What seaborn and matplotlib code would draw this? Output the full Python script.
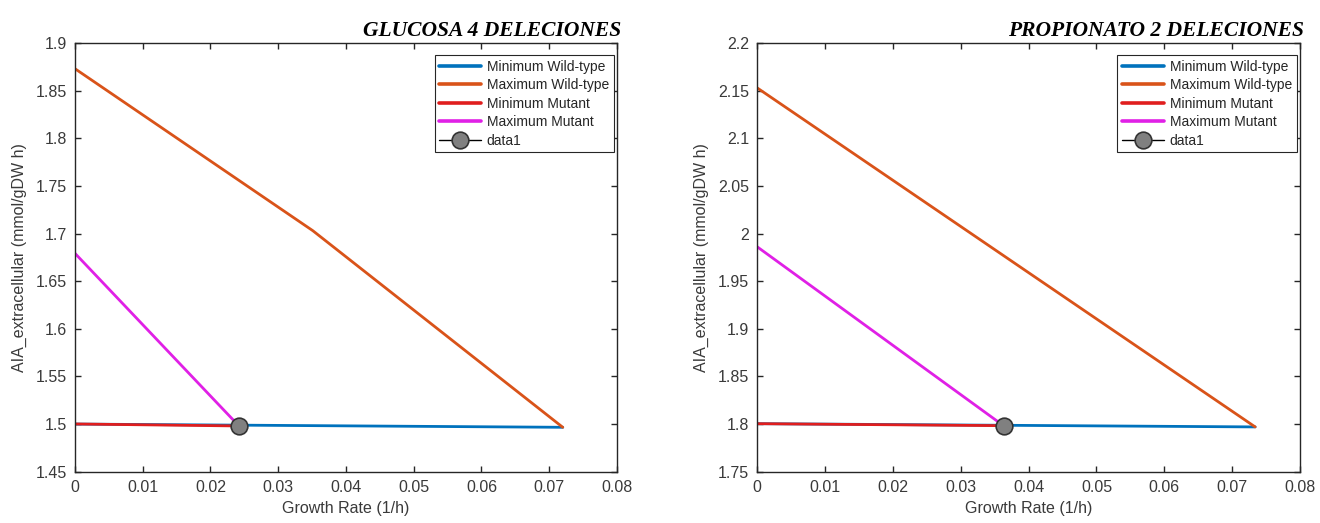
import matplotlib
matplotlib.use("Agg")
import matplotlib.pyplot as plt
import seaborn as sns
from matplotlib.ticker import FuncFormatter, MultipleLocator

# ---------------- data ----------------
titles = ["GLUCOSA 4 DELECIONES", "PROPIONATO 2 DELECIONES"]
legend_labels = ["Minimum Wild-type", "Maximum Wild-type", "Minimum Mutant", "Maximum Mutant", "data1"]

# Glucosa panel
g_minwt_x = [0.0, 0.0720]
g_minwt_y = [1.5000, 1.4966]
g_maxwt_x = [0.0, 0.0351, 0.0720]
g_maxwt_y = [1.8730, 1.7030, 1.4966]
g_minmut_x = [0.0, 0.0242]
g_minmut_y = [1.5001, 1.4980]
g_maxmut_x = [0.0, 0.0242]
g_maxmut_y = [1.6792, 1.4980]
g_point_x = [0.0242]
g_point_y = [1.4980]
g_ylim = (1.45, 1.9)

# Propionato panel
p_minwt_x = [0.0, 0.0734]
p_minwt_y = [1.8004, 1.7970]
p_maxwt_x = [0.0, 0.0734]
p_maxwt_y = [2.1528, 1.7970]
p_minmut_x = [0.0, 0.0363]
p_minmut_y = [1.8004, 1.7983]
p_maxmut_x = [0.0, 0.0363]
p_maxmut_y = [1.9860, 1.7983]
p_point_x = [0.0363]
p_point_y = [1.7983]
p_ylim = (1.75, 2.2)

xlim = (0.0, 0.08)

colors = ["#0072BD", "#D95319", "#E01E1E", "#E020E6"]

# ---------------- style ----------------
sns.set_theme(style="white")
plt.rcParams["font.family"] = ["Liberation Sans", "DejaVu Sans"]

fig = plt.figure(figsize=(13.2, 5.23), dpi=100)
ax1 = fig.add_axes([0.0568, 0.0981, 0.4106, 0.8197])
ax2 = fig.add_axes([0.5737, 0.0981, 0.4111, 0.8197])

panels = [
    (ax1, [(g_minwt_x, g_minwt_y), (g_maxwt_x, g_maxwt_y), (g_minmut_x, g_minmut_y), (g_maxmut_x, g_maxmut_y)],
     (g_point_x, g_point_y), g_ylim, titles[0]),
    (ax2, [(p_minwt_x, p_minwt_y), (p_maxwt_x, p_maxwt_y), (p_minmut_x, p_minmut_y), (p_maxmut_x, p_maxmut_y)],
     (p_point_x, p_point_y), p_ylim, titles[1]),
]

axcol = "#262626"
fmt = FuncFormatter(lambda v, p: ("%g" % round(v, 4)))

for ax, series, pt, ylim, title in panels:
    for (xs, ys), c, lab in zip(series, colors, legend_labels[:4]):
        sns.lineplot(x=xs, y=ys, ax=ax, color=c, linewidth=2.0, label=lab, sort=False)
    sns.lineplot(x=pt[0], y=pt[1], ax=ax, color="black", linewidth=1.0, marker="o",
                 markersize=12, markerfacecolor="#808080", markeredgecolor="#333333",
                 markeredgewidth=1.2, label=legend_labels[4])
    ax.set_xlim(*xlim)
    ax.set_ylim(*ylim)
    ax.xaxis.set_major_locator(MultipleLocator(0.01))
    ax.yaxis.set_major_locator(MultipleLocator(0.05))
    ax.xaxis.set_major_formatter(fmt)
    ax.yaxis.set_major_formatter(fmt)
    ax.tick_params(direction="in", length=4, width=1, colors=axcol, labelcolor="#3a3a3a",
                   labelsize=11.5, top=True, right=True, bottom=True, left=True, pad=6)
    for s in ax.spines.values():
        s.set_color(axcol)
        s.set_linewidth(1.0)
        s.set_visible(True)
    ax.set_xlabel("Growth Rate (1/h)", fontsize=11.5, color="#3a3a3a", labelpad=4)
    ax.set_ylabel("AIA_extracellular (mmol/gDW h)", fontsize=11.5, color="#3a3a3a", labelpad=6)
    t = ax.set_title(title, loc="right", fontsize=15.5, fontweight="bold", fontstyle="italic",
                     family=["Liberation Serif", "DejaVu Serif"], pad=5, color="black")
    t.set_x(1.008)
    leg = ax.legend(loc="upper right", bbox_to_anchor=(0.994, 0.972), fontsize=10,
                    frameon=True, fancybox=False, edgecolor="#262626", framealpha=1,
                    handlelength=3.0, borderpad=0.35, labelspacing=0.32, handletextpad=0.4,
                    borderaxespad=0.0)
    leg.get_frame().set_linewidth(0.8)
    for h in leg.get_lines()[:4]:
        h.set_linewidth(2.6)

fig.savefig("out.png", dpi=100)
